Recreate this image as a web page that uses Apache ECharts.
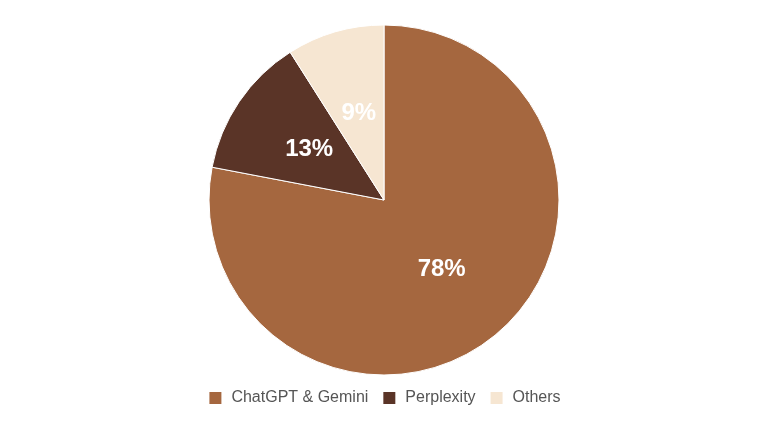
<!DOCTYPE html>
<html><head><meta charset="utf-8">
<script src="https://cdn.jsdelivr.net/npm/echarts@6/dist/echarts.min.js"></script>
<style>html,body{margin:0;padding:0;background:#fff}#c{width:768px;height:432px}</style>
</head><body><div id="c"></div>
<script>
const categories = ['ChatGPT & Gemini', 'Perplexity', 'Others'];
const values = [78, 13, 9];
const colors = ['#A5673F', '#5A3427', '#F6E6D2'];
const chart = echarts.init(document.getElementById('c'));
chart.setOption({
  animation: false,
  legend: {
    top: 385, left: 'center',
    itemWidth: 14, itemHeight: 14, itemGap: 13, icon: 'rect',
    textStyle: { fontFamily: 'Liberation Sans, Arial, sans-serif', fontSize: 16, color: '#555', padding: [0, 0, 0, 4] },
    data: categories
  },
  series: [{
    type: 'pie',
    center: [384, 200],
    radius: 175,
    startAngle: 90,
    clockwise: true,
    itemStyle: { borderColor: '#fff', borderWidth: 1 },
    label: {
      position: 'inner',
      formatter: '{c}%',
      color: '#fff', fontWeight: 'bold', fontSize: 24,
      fontFamily: 'Liberation Sans, Arial, sans-serif'
    },
    labelLine: { show: false },
    data: categories.map((n, i) => ({ name: n, value: values[i], itemStyle: { color: colors[i] } }))
  }]
});
</script></body></html>
